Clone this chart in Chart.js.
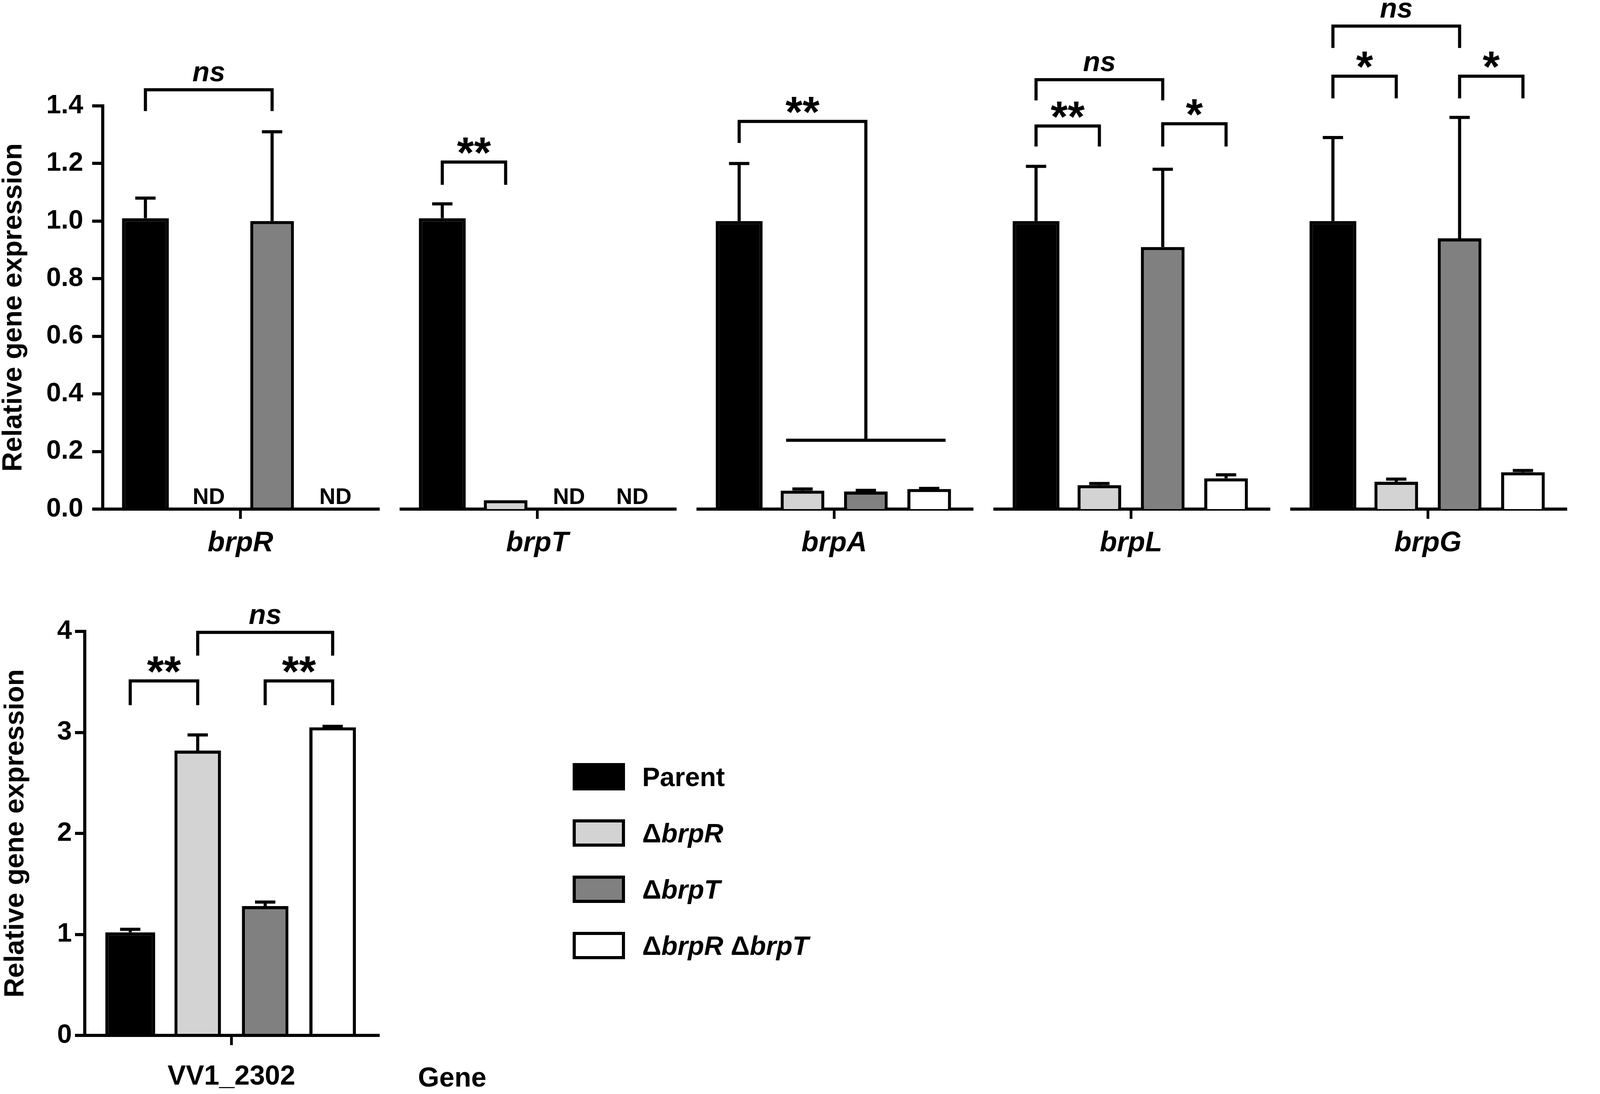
<!DOCTYPE html>
<html>
<head>
<meta charset="utf-8">
<script src="https://cdn.jsdelivr.net/npm/chart.js@4.4.1/dist/chart.umd.min.js"></script>
<style>
  html, body { margin: 0; padding: 0; background: #fff; }
  body { width: 4317px; height: 2800px; position: relative; overflow: hidden;
         font-family: "Liberation Sans", Arial, Helvetica, sans-serif; color: #000; }
  canvas { position: absolute; }
  .axis-name { position: absolute; font-weight: bold; font-size: 70px; line-height: 70px; transform: translateY(-50%); }
  #legend { position: absolute; left: 1466px; top: 1953px; }
  .lg-row { position: absolute; left: 0; height: 70px; white-space: nowrap; }
  .lg-box { position: absolute; left: 0; top: 0; width: 134px; height: 70px; box-sizing: border-box; border: 8px solid #000; }
  .lg-text { position: absolute; left: 178px; top: 0; line-height: 70px; font-size: 68px; font-weight: bold; }
</style>
</head>
<body>
<div class="axis-name" style="left:4131px; top:1393px;">Gene</div>
<div class="axis-name" style="left:1070px; top:2757px;">Gene</div>
<div id="legend"></div>
<script>
// ---- data ----
var genes = ['brpR', 'brpT', 'brpA', 'brpL', 'brpG'];
var strains = ['Parent', 'ΔbrpR', 'ΔbrpT', 'ΔbrpR ΔbrpT'];

var parentVals = [1.01, 1.01, 1.0, 1.0, 1.0];
var parentErr  = [0.07, 0.05, 0.2, 0.19, 0.29];
var brpRVals   = [null, 0.031, 0.064, 0.083, 0.095];
var brpRErr    = [0, 0, 0.006, 0.006, 0.009];
var brpTVals   = [1.0, null, 0.061, 0.91, 0.94];
var brpTErr    = [0.31, 0, 0.004, 0.27, 0.42];
var bothVals   = [null, null, 0.07, 0.107, 0.128];
var bothErr    = [0, 0, 0.002, 0.012, 0.006];
var topTicks   = [0, 0.2, 0.4, 0.6, 0.8, 1.0, 1.2, 1.4];

var vvGene   = ['VV1_2302'];
var vvVals   = [1.02, 2.82, 1.28, 3.05];
var vvErr    = [0.03, 0.155, 0.04, 0.01];
var vvTicks  = [0, 1, 2, 3, 4];

// significance brackets: [gene, from strain, to strain, top, leg end, text]
var topBrackets = [
  [0, 0, 2, 1.456, 1.382, 'ns'],
  [1, 0, 1, 1.205, 1.126, '**'],
  [3, 0, 2, 1.491, 1.419, 'ns'],
  [3, 0, 1, 1.330, 1.259, '**'],
  [3, 2, 3, 1.338, 1.259, '*'],
  [4, 0, 2, 1.677, 1.601, 'ns'],
  [4, 0, 1, 1.503, 1.426, '*'],
  [4, 2, 3, 1.503, 1.426, '*']
];
// brpA: parent against the three mutants together (gene, parent, drop strain, top, leg end, bar line, text)
var brpAGroup = [2, 0, 2, 1.346, 1.271, 0.239, '**'];
var vvBrackets = [
  [0, 1, 3, 3.99, 3.76, 'ns'],
  [0, 0, 1, 3.51, 3.27, '**'],
  [0, 2, 3, 3.51, 3.27, '**']
];

// ---- styles / layout ----
var FONT = '"Liberation Sans", Arial, Helvetica, sans-serif';
var fills = ['#000000', '#d3d3d3', '#808080', '#ffffff'];
var barPct = [0.74, 0.69, 0.69, 0.69];
var LW = 8;

var segLeft = 263, segWidth = 705, segStep = 760;
var plotTop = 271, plotBottom = 1303, xAxisH = 150;

function labelText(ctx, text, cx, lineY) {
  ctx.font = text === 'ns' ? 'italic bold 72px ' + FONT : 'bold 112px ' + FONT;
  ctx.textAlign = 'center';
  ctx.textBaseline = 'alphabetic';
  var m = ctx.measureText(text);
  ctx.fillText(text, cx, lineY - 17 - m.actualBoundingBoxDescent);
}

var errorBars = {
  id: 'errorBars',
  afterDatasetsDraw: function(chart) {
    var ctx = chart.ctx, y = chart.scales.y;
    ctx.save();
    ctx.strokeStyle = '#000';
    ctx.fillStyle = '#000';
    ctx.lineWidth = LW;
    chart.data.datasets.forEach(function(ds, d) {
      chart.getDatasetMeta(d).data.forEach(function(bar, i) {
        var v = ds.data[i];
        if (v == null) {
          ctx.font = 'bold 57px ' + FONT;
          ctx.textAlign = 'center';
          ctx.textBaseline = 'alphabetic';
          ctx.fillText('ND', bar.x, chart.chartArea.bottom - 13);
          return;
        }
        var e = ds.errors[i];
        if (!e) return;
        var top = y.getPixelForValue(v + e);
        ctx.beginPath();
        ctx.moveTo(bar.x, bar.y);
        ctx.lineTo(bar.x, top);
        ctx.moveTo(bar.x - 26, top);
        ctx.lineTo(bar.x + 26, top);
        ctx.stroke();
      });
    });
    ctx.restore();
  }
};

var sigMarks = {
  id: 'sigMarks',
  afterDraw: function(chart, args, opts) {
    var ctx = chart.ctx, y = chart.scales.y;
    var bx = function(d) { return chart.getDatasetMeta(d).data[0].x; };
    ctx.save();
    ctx.strokeStyle = '#000';
    ctx.fillStyle = '#000';
    ctx.lineWidth = LW;
    ctx.lineJoin = 'miter';
    (opts.brackets || []).forEach(function(b) {
      var x1 = bx(b[1]), x2 = bx(b[2]);
      var yt = y.getPixelForValue(b[3]), yl = y.getPixelForValue(b[4]);
      ctx.beginPath();
      ctx.moveTo(x1, yl); ctx.lineTo(x1, yt); ctx.lineTo(x2, yt); ctx.lineTo(x2, yl);
      ctx.stroke();
      labelText(ctx, b[5], (x1 + x2) / 2, yt - LW / 2);
    });
    if (opts.group) {
      var g = opts.group;
      var x1 = bx(g[1]), x2 = bx(g[2]);
      var yt = y.getPixelForValue(g[3]), yl = y.getPixelForValue(g[4]), yb = y.getPixelForValue(g[5]);
      var first = chart.getDatasetMeta(1).data[0], last = chart.getDatasetMeta(3).data[0];
      ctx.beginPath();
      ctx.moveTo(x1, yl); ctx.lineTo(x1, yt); ctx.lineTo(x2, yt); ctx.lineTo(x2, yb);
      ctx.moveTo(first.x - first.width / 2 + 14, yb);
      ctx.lineTo(last.x + last.width / 2 - 14, yb);
      ctx.stroke();
      labelText(ctx, g[6], (x1 + x2) / 2, yt - LW / 2);
    }
    ctx.restore();
  }
};

var htmlLegend = {
  id: 'htmlLegend',
  afterUpdate: function(chart, args, opts) {
    var box = document.getElementById(opts.containerID);
    box.innerHTML = '';
    chart.data.datasets.forEach(function(ds, k) {
      var row = document.createElement('div');
      row.className = 'lg-row';
      row.style.top = (k * 144) + 'px';
      var sw = document.createElement('span');
      sw.className = 'lg-box';
      sw.style.background = ds.backgroundColor;
      var tx = document.createElement('span');
      tx.className = 'lg-text';
      tx.innerHTML = ds.label.replace(/Δ(\w+)/g, 'Δ<i>$1</i>');
      row.appendChild(sw);
      row.appendChild(tx);
      box.appendChild(row);
    });
  }
};

function makeDatasets(values, errors) {
  return strains.map(function(name, k) {
    return {
      label: name,
      data: values[k],
      errors: errors[k],
      backgroundColor: fills[k],
      borderColor: '#000',
      borderWidth: LW,
      borderSkipped: 'start',
      barPercentage: barPct[k],
      categoryPercentage: 0.92
    };
  });
}

function makeCanvas(left, top, w, h) {
  var c = document.createElement('canvas');
  c.width = w; c.height = h;
  c.style.left = left + 'px'; c.style.top = top + 'px';
  c.style.width = w + 'px'; c.style.height = h + 'px';
  document.body.appendChild(c);
  return c;
}

function yAxis(ticks, fmt, show, width, tickLen, tickPad, titlePad) {
  return {
    display: show,
    min: ticks[0],
    max: ticks[ticks.length - 1],
    afterBuildTicks: function(s) { s.ticks = ticks.map(function(v) { return { value: v }; }); },
    afterFit: function(s) { s.width = show ? width : 0; },
    border: { display: true, color: '#000', width: LW },
    grid: { drawOnChartArea: false, drawTicks: true, tickLength: tickLen, color: '#000', lineWidth: LW },
    ticks: { color: '#000', padding: tickPad, font: { family: FONT, size: 68, weight: 'bold' },
             callback: function(v) { return fmt(v); } },
    title: { display: show, text: 'Relative gene expression', color: '#000',
             font: { family: FONT, size: 70, weight: 'bold', lineHeight: 1 }, padding: { top: titlePad, bottom: 0 } }
  };
}

function xAxis(italic, tickPad) {
  return {
    afterFit: function(s) { s.height = xAxisH; },
    border: { display: true, color: '#000', width: LW },
    grid: { offset: false, drawOnChartArea: false, drawTicks: true, tickLength: 25, color: '#000', lineWidth: 7 },
    ticks: { color: '#000', padding: tickPad, crossAlign: 'near',
             font: { family: FONT, size: italic ? 72 : 70, weight: 'bold', style: italic ? 'italic' : 'normal' } }
  };
}

// ---- top row: one small chart per gene, sharing the y range ----
genes.forEach(function(gene, i) {
  var first = i === 0;
  var left = first ? 0 : segLeft + i * segStep;
  var width = (first ? segLeft : 0) + segWidth + 4;
  var canvas = makeCanvas(left, 0, width, plotBottom + xAxisH);
  var vals = [parentVals, brpRVals, brpTVals, bothVals].map(function(a) { return [a[i]]; });
  var errs = [parentErr, brpRErr, brpTErr, bothErr].map(function(a) { return [a[i]]; });
  new Chart(canvas, {
    type: 'bar',
    data: { labels: [gene], datasets: makeDatasets(vals, errs) },
    options: {
      responsive: false,
      animation: false,
      devicePixelRatio: 1,
      layout: { padding: { top: plotTop, left: 0, right: 4, bottom: 0 } },
      scales: {
        x: xAxis(true, 20),
        y: yAxis(topTicks, function(v) { return v.toFixed(1); }, first, segLeft, 27, 23, 1)
      },
      plugins: {
        legend: { display: false },
        tooltip: { enabled: false },
        sigMarks: {
          brackets: topBrackets.filter(function(b) { return b[0] === i; }),
          group: brpAGroup[0] === i ? brpAGroup : null
        }
      }
    },
    plugins: [errorBars, sigMarks]
  });
});

// ---- bottom: VV1_2302 ----
var vvCanvas = makeCanvas(0, 1500, 972, 1300);
new Chart(vvCanvas, {
  type: 'bar',
  data: {
    labels: vvGene,
    datasets: makeDatasets(vvVals.map(function(v) { return [v]; }), vvErr.map(function(e) { return [e]; }))
  },
  options: {
    responsive: false,
    animation: false,
    devicePixelRatio: 1,
    layout: { padding: { top: 116, left: 0, right: 4, bottom: 0 } },
    scales: {
      x: xAxis(false, 40),
      y: yAxis(vvTicks, function(v) { return String(v); }, true, 217, 25, 8, 6)
    },
    plugins: {
      legend: { display: false },
      tooltip: { enabled: false },
      sigMarks: { brackets: vvBrackets },
      htmlLegend: { containerID: 'legend' }
    }
  },
  plugins: [errorBars, sigMarks, htmlLegend]
});
</script>
</body>
</html>
